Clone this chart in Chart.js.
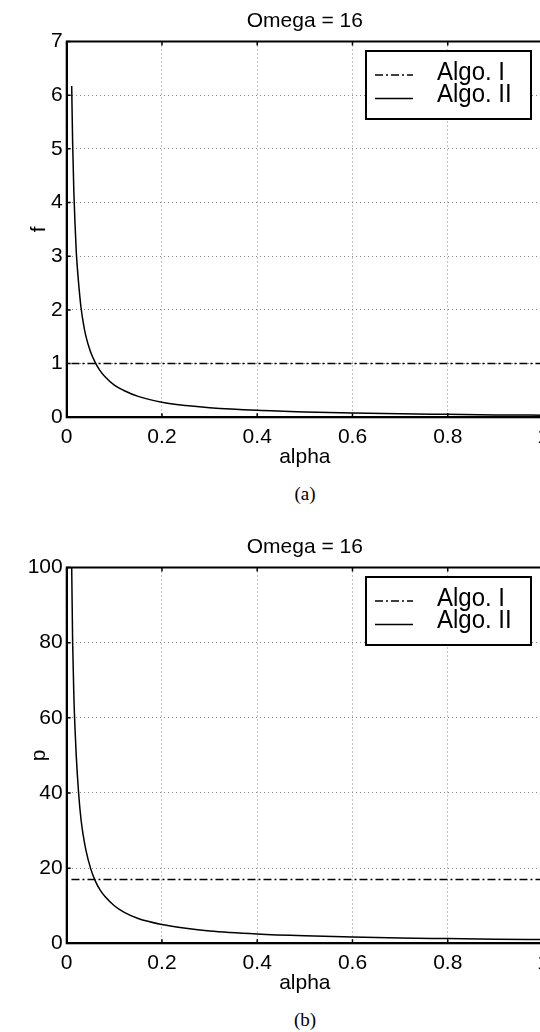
<!DOCTYPE html>
<html>
<head>
<meta charset="utf-8">
<script src="https://cdn.jsdelivr.net/npm/chart.js@4.4.1/dist/chart.umd.min.js"></script>
<style>
  html, body { margin: 0; padding: 0; background: #fff; overflow: hidden; }
  body { width: 540px; height: 1032px; position: relative; }
  .panel { position: absolute; left: 0; width: 560px; height: 470px; }
  .caption { position: absolute; left: 0; width: 610px; text-align: center;
             font-family: 'Liberation Serif', 'Times New Roman', serif; font-size: 19px; color: #000; }
</style>
</head>
<body>
<div class="panel" style="top:0px"><canvas id="chartA" width="560" height="470"></canvas></div>
<div class="caption" style="top:483px">(a)</div>
<div class="panel" style="top:526px"><canvas id="chartB" width="560" height="470"></canvas></div>
<div class="caption" style="top:1009px">(b)</div>
<script>
// values
const alphaValues = [0.0105, 0.0125, 0.015, 0.0175, 0.02, 0.025, 0.03, 0.035, 0.04, 0.05,
                     0.06, 0.07, 0.08, 0.1, 0.12, 0.15, 0.2, 0.25, 0.3, 0.4,
                     0.5, 0.6, 0.7, 0.8, 0.9, 1.0];
const fAlgo2 = [6.17, 5.1, 4.2, 3.6, 3.1, 2.5, 2.05, 1.75, 1.52, 1.22,
                1.02, 0.87, 0.76, 0.6, 0.5, 0.39, 0.28, 0.22, 0.18, 0.13,
                0.1, 0.08, 0.065, 0.055, 0.045, 0.04];
const pAlgo2 = [100, 80, 66, 57, 50, 40, 33, 28.5, 25, 20,
                16.6, 14.2, 12.5, 10, 8.3, 6.6, 5, 4, 3.3, 2.5,
                2, 1.65, 1.4, 1.25, 1.1, 1.0];
const algo1Alpha = [0.01, 1.0];
const fAlgo1 = [1, 1];
const pAlgo1 = [17, 17];
const seriesNames = ['Algo. I', 'Algo. II'];
const chartTitle = 'Omega = 16';
const xTitle = 'alpha';
const xTicks = [0, 0.2, 0.4, 0.6, 0.8, 1];
const fTicks = [0, 1, 2, 3, 4, 5, 6, 7];
const pTicks = [0, 20, 40, 60, 80, 100];

const FONT = "'Liberation Sans', Arial, Helvetica, sans-serif";

function points(xs, ys) {
  return xs.map((x, i) => ({ x, y: ys[i] }));
}

// frame, inward ticks and the boxed legend
const framePlugin = {
  id: 'frame',
  afterDraw(chart) {
    const { ctx, chartArea: a, scales } = chart;
    ctx.save();
    ctx.setLineDash([]);
    ctx.strokeStyle = '#000';
    ctx.lineWidth = 1.5;
    ctx.beginPath();
    scales.x.ticks.forEach(t => {
      const px = scales.x.getPixelForValue(t.value);
      ctx.moveTo(px, a.bottom); ctx.lineTo(px, a.bottom - 4);
      ctx.moveTo(px, a.top); ctx.lineTo(px, a.top + 4);
    });
    scales.y.ticks.forEach(t => {
      const py = scales.y.getPixelForValue(t.value);
      ctx.moveTo(a.left, py); ctx.lineTo(a.left + 4, py);
    });
    ctx.stroke();
    ctx.lineWidth = 2;
    ctx.strokeRect(a.left, a.top, a.right - a.left, a.bottom - a.top);

    // legend
    const bx = a.right - 177, by = a.top + 9.5, bw = 165, bh = 68;
    ctx.fillStyle = '#fff';
    ctx.fillRect(bx, by, bw, bh);
    ctx.lineWidth = 2;
    ctx.strokeRect(bx, by, bw, bh);
    const rows = [{ line: 24, text: 22 }, { line: 47.5, text: 43.5 }];
    chart.data.datasets.forEach((ds, i) => {
      ctx.strokeStyle = ds.borderColor;
      ctx.lineWidth = ds.borderWidth;
      ctx.setLineDash(ds.borderDash || []);
      ctx.beginPath();
      ctx.moveTo(bx + 9, by + rows[i].line);
      ctx.lineTo(bx + 47, by + rows[i].line);
      ctx.stroke();
      ctx.setLineDash([]);
      ctx.save();
      ctx.translate(bx + 71, by + rows[i].text);
      ctx.scale(1, 1.1);
      ctx.fillStyle = '#000';
      ctx.font = '24px ' + FONT;
      ctx.textBaseline = 'middle';
      ctx.fillText(ds.label, 0, 0);
      ctx.restore();
    });
    ctx.restore();
  }
};

function makeChart(id, yTitle, yTicks, algo1, algo2) {
  const ctx = document.getElementById(id).getContext('2d');
  return new Chart(ctx, {
    type: 'scatter',
    data: {
      datasets: [
        {
          label: seriesNames[0],
          data: points(algo1Alpha, algo1),
          showLine: true,
          borderColor: '#000',
          borderWidth: 1.5,
          borderDash: [8, 3, 2, 3],
          pointRadius: 0
        },
        {
          label: seriesNames[1],
          data: points(alphaValues, algo2),
          showLine: true,
          borderColor: '#000',
          borderWidth: 1.5,
          cubicInterpolationMode: 'monotone',
          pointRadius: 0
        }
      ]
    },
    options: {
      responsive: false,
      animation: false,
      devicePixelRatio: 1,
      layout: { padding: { top: 0, right: 17, bottom: 0, left: 0 } },
      plugins: {
        legend: { display: false },
        tooltip: { enabled: false },
        title: {
          display: true,
          text: chartTitle,
          fullSize: false,
          color: '#000',
          font: { family: FONT, size: 21, weight: 'normal' },
          padding: { top: 8.4, bottom: 7.9 }
        }
      },
      scales: {
        x: {
          type: 'linear',
          min: xTicks[0],
          max: xTicks[xTicks.length - 1],
          afterBuildTicks: s => { s.ticks = xTicks.map(v => ({ value: v })); },
          afterFit: s => { s.height = 52.7; },
          ticks: {
            color: '#000',
            padding: 7,
            maxRotation: 0,
            font: { family: FONT, size: 21 },
            callback: v => String(v)
          },
          grid: { color: '#888', lineWidth: 1, drawTicks: false },
          border: { display: true, color: '#000', width: 2, dash: [1, 3] },
          title: {
            display: true,
            text: xTitle,
            color: '#000',
            font: { family: FONT, size: 21 },
            padding: { top: 0, bottom: 0 }
          }
        },
        y: {
          type: 'linear',
          min: yTicks[0],
          max: yTicks[yTicks.length - 1],
          afterBuildTicks: s => { s.ticks = yTicks.map(v => ({ value: v })); },
          afterFit: s => { s.width = 66.7; },
          ticks: {
            color: '#000',
            padding: 4,
            font: { family: FONT, size: 21 },
            callback: v => String(v)
          },
          grid: { color: '#888', lineWidth: 1, drawTicks: false },
          border: { display: true, color: '#000', width: 2, dash: [1, 3] },
          title: {
            display: true,
            text: yTitle,
            color: '#000',
            font: { family: FONT, size: 21 },
            padding: { top: 27, bottom: 0 }
          }
        }
      }
    },
    plugins: [framePlugin]
  });
}

makeChart('chartA', 'f', fTicks, fAlgo1, fAlgo2);
makeChart('chartB', 'p', pTicks, pAlgo1, pAlgo2);
</script>
</body>
</html>
